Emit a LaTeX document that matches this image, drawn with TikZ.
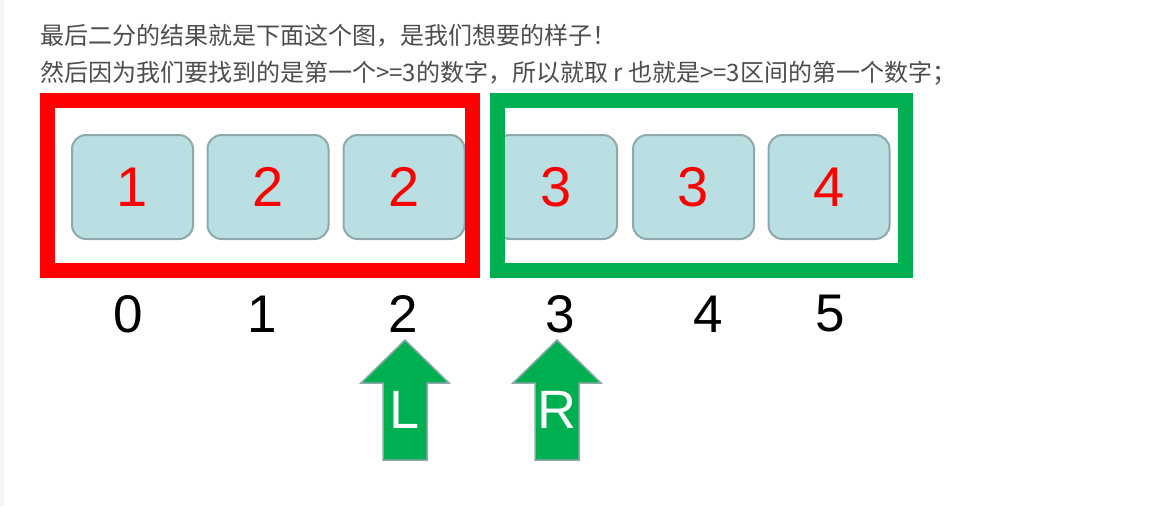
\documentclass[tikz,border=0pt]{standalone}
\usepackage{fontspec}
\setmainfont{Liberation Sans}
\newfontfamily\cjk{Noto Sans CJK SC}
\usetikzlibrary{positioning}
\definecolor{cellfill}{RGB}{185,223,227}
\definecolor{celledge}{RGB}{143,168,172}
\definecolor{okgreen}{RGB}{0,176,80}
\definecolor{textgray}{RGB}{77,77,77}
\definecolor{sidegray}{RGB}{243,245,248}

\begin{document}
\begin{tikzpicture}[x=1pt, y=-1pt,
    cell/.style={draw=celledge, line width=2pt, fill=cellfill, rounded corners=14pt,
        minimum width=121pt, minimum height=104pt, inner sep=0pt,
        text=red, font=\fontsize{56}{60}\selectfont},
    idx/.style={inner sep=0pt, font=\fontsize{53}{56}\selectfont},
    frame/.style={line width=15pt},
    uparrow/.style={fill=okgreen, draw=celledge, line width=1.5pt, line join=miter},
    ptr/.style={inner sep=0pt, text=white, font=\fontsize{54}{58}\selectfont},
    note/.style={anchor=base west, inner sep=0pt, text=textgray, font=\cjk\fontsize{24}{28}\selectfont}]

    % page and left strip
    \fill[white] (0,0) rectangle (1158,506);
    \useasboundingbox (0,0) rectangle (1158,506);
    \fill[sidegray] (0,0) rectangle (4,506);

    % two lines of text
    \node[note] (line1) at (40,44) {最后二分的结果就是下面这个图，是我们想要的样子！};
    \node[note] (line2) at (40,81) {然后因为我们要找到的是第一个>=3的数字，所以就取 r 也就是>=3区间的第一个数字；};

    % array cells and their indices
    \foreach \i/\v/\x/\ix in {0/1/132.5/128, 1/2/268/262, 2/2/404/403,
                              3/3/556.5/560, 4/3/693.5/708, 5/4/829/830} {
        \node[cell] (b\i) at (\x,187) {\v};
        \node[idx] (i\i) at (\ix,314) {\i};
    }

    % the two halves
    \draw[frame, red] (47.5,100.5) rectangle (472.5,270.5);
    \draw[frame, okgreen] (497.5,100) rectangle (905.5,270);

    % L and R pointers
    \foreach \x/\t/\n in {405/L/lp, 557/R/rp} {
        \begin{scope}[shift={(\x,0)}]
            \draw[uparrow] (0,340) -- (44,383) -- (22,383) -- (22,460)
                -- (-22,460) -- (-22,383) -- (-44,383) -- cycle;
            \node[ptr] (\n) at (0,410) {\t};
        \end{scope}
    }
\end{tikzpicture}
\end{document}
